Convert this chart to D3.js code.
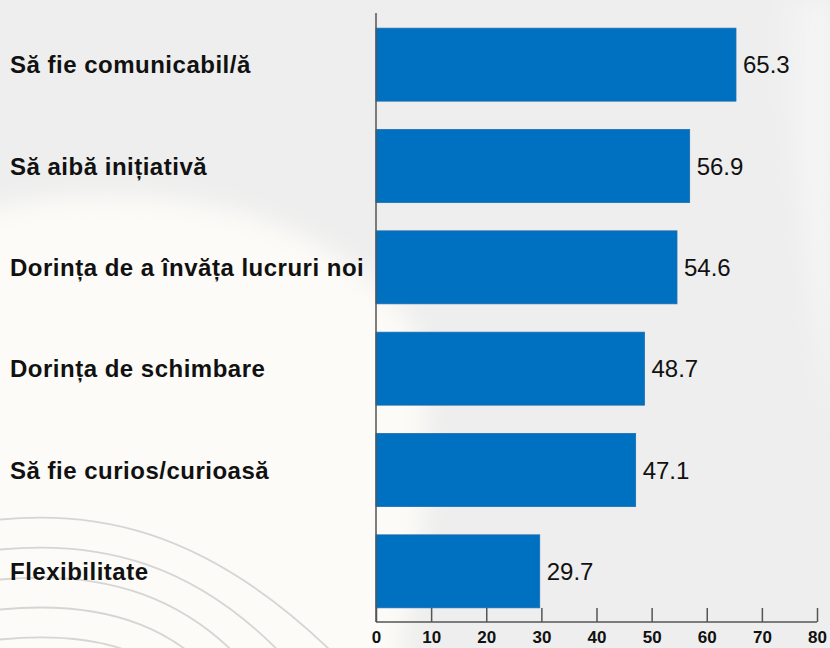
<!DOCTYPE html>
<html>
<head>
<meta charset="utf-8">
<script src="https://cdn.jsdelivr.net/npm/d3@7"></script>
<style>
  body { margin: 0; background: #eeeeee; }
  svg { display: block; }
</style>
</head>
<body>
<div id="chart"></div>
<script>
var categories = ['Să fie comunicabil/ă', 'Să aibă inițiativă', 'Dorința de a învăța lucruri noi',
                  'Dorința de schimbare', 'Să fie curios/curioasă', 'Flexibilitate'];
var values = [65.3, 56.9, 54.6, 48.7, 47.1, 29.7];
var ticks = [0, 10, 20, 30, 40, 50, 60, 70, 80];

var width = 830, height = 648;
var bar_color = '#0070c0';
var font = "'Liberation Sans', Arial, sans-serif";

var svg = d3.select('#chart')
    .append('svg')
        .attr('width', width)
        .attr('height', height);

// background swirl
var defs = svg.append('defs');
defs.append('filter')
    .attr('id', 'soft')
    .attr('x', '-20%').attr('y', '-20%').attr('width', '140%').attr('height', '140%')
    .append('feGaussianBlur')
        .attr('stdDeviation', 12);
var lg = defs.append('linearGradient')
    .attr('id', 'rightglow')
    .attr('x1', '0').attr('x2', '1').attr('y1', '0').attr('y2', '0');
lg.append('stop').attr('offset', '0%').attr('stop-color', '#f6f6f6').attr('stop-opacity', 0);
lg.append('stop').attr('offset', '100%').attr('stop-color', '#f8f8f8').attr('stop-opacity', 1);

svg.append('rect')
    .attr('width', width).attr('height', height)
    .attr('fill', '#eeeeee');
svg.append('path')
    .attr('d', 'M-30,215 C120,170 330,200 415,330 C440,450 420,560 395,680 L-30,680 Z')
    .attr('fill', '#fcfbf7')
    .attr('filter', 'url(#soft)');
svg.append('path')
    .attr('d', 'M770,0 L830,0 L830,420 Z')
    .attr('fill', 'url(#rightglow)')
    .attr('filter', 'url(#soft)');

var arcs = [0, 1, 2, 3, 4];
svg.selectAll('.arc')
    .data(arcs)
    .enter()
    .append('path')
        .attr('class', 'arc')
        .attr('d', function(d){
            var y = 520 + d * 30;
            return 'M-5,' + y + ' C90,' + (y - 10) + ' 200,' + (y + 5) + ' ' + (330 - d * 25) + ',' + (y + 130);
        })
        .attr('fill', 'none')
        .attr('stroke', '#cccccc')
        .attr('stroke-width', 1.8)
        .attr('opacity', 0.8);

// scales
var x_scale = d3.scaleLinear()
    .domain([0, 80])
    .range([376, 817]);

var y_scale = d3.scaleBand()
    .domain(categories)
    .range([14, 622])
    .paddingInner(0.28)
    .paddingOuter(0.14);

// bars
svg.selectAll('.bar')
    .data(values)
    .enter()
    .append('rect')
        .attr('class', 'bar')
        .attr('x', x_scale(0))
        .attr('y', function(d, i) {return y_scale(categories[i]);})
        .attr('width', function(d) {return x_scale(d) - x_scale(0);})
        .attr('height', y_scale.bandwidth())
        .attr('fill', bar_color)
        .attr('stroke', '#1b6cb0')
        .attr('stroke-width', 0.8);

// value labels
svg.selectAll('.val')
    .data(values)
    .enter()
    .append('text')
        .attr('class', 'val')
        .attr('x', function(d) {return x_scale(d) + 7;})
        .attr('y', function(d, i) {return y_scale(categories[i]) + y_scale.bandwidth() / 2;})
        .attr('dy', '0.36em')
        .style('font-family', font)
        .style('font-size', '24px')
        .style('fill', '#111')
        .text(function(d) {return d.toFixed(1);});

// category labels
svg.selectAll('.cat')
    .data(categories)
    .enter()
    .append('text')
        .attr('class', 'cat')
        .attr('x', 10)
        .attr('y', function(d) {return y_scale(d) + y_scale.bandwidth() / 2;})
        .attr('dy', '0.36em')
        .style('font-family', font)
        .style('font-size', '24px')
        .style('font-weight', 'bold')
        .style('letter-spacing', '0.5px')
        .style('fill', '#111')
        .text(function(d) {return d;});

// axes
var x_axis = d3.axisBottom(x_scale)
    .tickValues(ticks)
    .tickSize(-14)
    .tickFormat(d3.format('d'));

var gx = svg.append('g')
    .attr('class', 'x-axis')
    .attr('transform', 'translate(0,622)')
    .call(x_axis);
gx.select('.domain')
    .attr('d', 'M' + x_scale(0) + ',0H' + x_scale(80))
    .attr('stroke', '#555')
    .attr('stroke-width', 1.5);
gx.selectAll('.tick line')
    .attr('stroke', '#555')
    .attr('stroke-width', 1.5);
gx.selectAll('text')
    .attr('y', 21)
    .attr('dy', '0')
    .style('font-family', font)
    .style('font-size', '17px')
    .style('font-weight', 'bold')
    .style('fill', '#111');

svg.append('line')
    .attr('x1', x_scale(0)).attr('x2', x_scale(0))
    .attr('y1', 13).attr('y2', 622)
    .attr('stroke', '#555')
    .attr('stroke-width', 1.5);
</script>
</body>
</html>
